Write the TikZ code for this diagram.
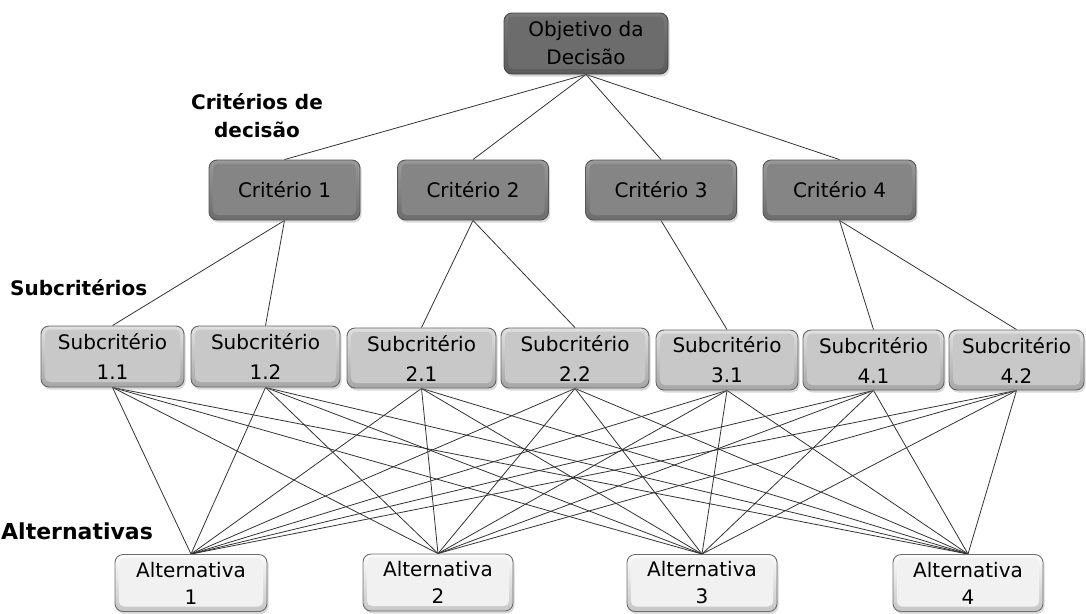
\documentclass[tikz,border=0pt]{standalone}
\usepackage{fontspec}
\setmainfont{DejaVu Sans}
\usetikzlibrary{shadows}
\pgfdeclarelayer{bg}
\pgfsetlayers{bg,main}
\definecolor{lnc}{HTML}{333333}
\definecolor{gB}{HTML}{474747}\definecolor{gT}{HTML}{7A7A7A}\definecolor{gS}{HTML}{5A5A5A}\definecolor{gI}{HTML}{6C6C6C}
\definecolor{cB}{HTML}{555555}\definecolor{cT}{HTML}{9A9A9A}\definecolor{cS}{HTML}{6C6C6C}\definecolor{cI}{HTML}{858585}
\definecolor{sB}{HTML}{666666}\definecolor{sT}{HTML}{E0E0E0}\definecolor{sS}{HTML}{A6A6A6}\definecolor{sI}{HTML}{C8C8C8}
\definecolor{aB}{HTML}{6E6E6E}\definecolor{aT}{HTML}{FCFCFC}\definecolor{aS}{HTML}{C6C6C6}\definecolor{aI}{HTML}{F1F1F1}
\begin{document}
\begin{tikzpicture}[x=1pt,y=-1pt,
  bx/.style={rounded corners=8pt, inner sep=0pt, align=center,
    font=\fontsize{20}{29}\selectfont, line width=0.9pt,
    drop shadow={shadow xshift=1.5pt,shadow yshift=-2.5pt,opacity=0.3}},
  bev/.style={path picture={\fill[#1,rounded corners=5pt]
    ([shift={(4pt,-3.5pt)}]path picture bounding box.north west) rectangle
    ([shift={(-4pt,5pt)}]path picture bounding box.south east);}},
  goalbox/.style={bx, draw=gB, top color=gT, bottom color=gS, bev=gI, font=\fontsize{20}{28}\selectfont},
  critbox/.style={bx, draw=cB, top color=cT, bottom color=cS, bev=cI},
  subbox/.style={bx, draw=sB, top color=sT, bottom color=sS, bev=sI, font=\fontsize{20}{30}\selectfont},
  altbox/.style={bx, draw=aB, top color=aT, bottom color=aS, bev=aI, font=\fontsize{20}{27}\selectfont},
  lbl/.style={font=\fontsize{20}{28}\selectfont\bfseries, inner sep=0pt, align=center},
  ln/.style={draw=lnc, line width=0.8pt}
]
\useasboundingbox (0,0) rectangle (1086,613);

\node[goalbox, minimum width=164pt, minimum height=61pt] (g) at (586,43.5) {Objetivo da\\Decisão};

\node[critbox, minimum width=151pt, minimum height=60pt] (c1) at (284.5,190) {Critério 1};
\node[critbox, minimum width=151pt, minimum height=60pt] (c2) at (473,190) {Critério 2};
\node[critbox, minimum width=151pt, minimum height=60pt] (c3) at (661,190) {Critério 3};
\node[critbox, minimum width=153pt, minimum height=60pt] (c4) at (839.5,190) {Critério 4};

\node[subbox, minimum width=143pt, minimum height=61pt] (s11) at (112.5,356.5) {Subcritério\\1.1};
\node[subbox, minimum width=149pt, minimum height=61pt] (s12) at (265.5,356.5) {Subcritério\\1.2};
\node[subbox, minimum width=149pt, minimum height=60pt] (s21) at (421.5,358) {Subcritério\\2.1};
\node[subbox, minimum width=148pt, minimum height=60pt] (s22) at (575,358) {Subcritério\\2.2};
\node[subbox, minimum width=142pt, minimum height=60pt] (s31) at (727,360) {Subcritério\\3.1};
\node[subbox, minimum width=141pt, minimum height=60pt] (s41) at (873.5,360) {Subcritério\\4.1};
\node[subbox, minimum width=135pt, minimum height=60pt] (s42) at (1016.5,360) {Subcritério\\4.2};

\node[altbox, minimum width=152pt, minimum height=57pt] (a1) at (191,583) {Alternativa\\1};
\node[altbox, minimum width=150pt, minimum height=57pt] (a2) at (438,582.5) {Alternativa\\2};
\node[altbox, minimum width=150pt, minimum height=57pt] (a3) at (702,583) {Alternativa\\3};
\node[altbox, minimum width=150pt, minimum height=57pt] (a4) at (968,583) {Alternativa\\4};

\node[lbl] (lc) at (257,116) {Critérios de\\decisão};
\node[lbl, anchor=base west] (ls) at (10,295) {Subcritérios};
\node[lbl, anchor=base west, font=\fontsize{22}{28}\selectfont\bfseries] (la) at (1,539) {Alternativas};

\begin{pgfonlayer}{bg}
\foreach \c in {c1,c2,c3,c4} \draw[ln] (g.south) -- (\c.north);
\draw[ln] (c1.south) -- (s11.north);
\draw[ln] (c1.south) -- (s12.north);
\draw[ln] (c2.south) -- (s21.north);
\draw[ln] (c2.south) -- (s22.north);
\draw[ln] (c3.south) -- (s31.north);
\draw[ln] (c4.south) -- (s41.north);
\draw[ln] (c4.south) -- (s42.north);
\foreach \s in {s11,s12,s21,s22,s31,s41,s42}
  \foreach \a in {a1,a2,a3,a4}
    \draw[ln] (\s.south) -- (\a.north);
\end{pgfonlayer}
\end{tikzpicture}
\end{document}
